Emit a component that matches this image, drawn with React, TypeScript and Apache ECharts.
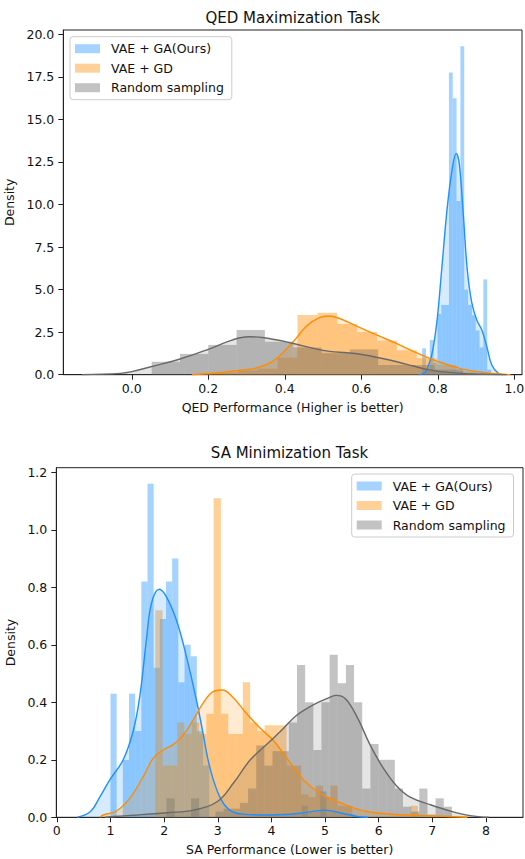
import React, { useEffect, useRef } from "react";
import * as echarts from "echarts";

const seriesNames = ["VAE + GA(Ours)", "VAE + GD", "Random sampling"];

// ---------- QED task: histogram bins (start, width, heights) ----------
const qedGaStart = 0.759;
const qedGaWidth = 0.01;
const qedGaHeights = [1.55, 0.3, 2.04, 0.7, 3.57, 4.1, 4.1, 17.75, 16.24, 10.2, 19.3, 5.0, 4.1, 3.5, 2.6, 1.6, 5.6, 0.3];

const qedGdStart = 0.173;
const qedGdWidth = 0.052;
const qedGdHeights = [0.06, 0.12, 0.24, 0.35, 1.0, 3.51, 3.64, 2.98, 2.51, 2.0, 1.43, 0.96, 0.57, 0.2, 0.05];

const qedRandStart = 0.052;
const qedRandWidth = 0.074;
const qedRandHeights = [0.76, 1.22, 1.75, 2.63, 1.94, 1.6, 1.26, 1.49, 0.57, 0.57, 0.3, 0.1];

// ---------- QED task: KDE curves ----------
const qedGaKde = [
  [0.75, 0], [0.765, 0.1], [0.771, 0.28], [0.784, 1.16], [0.797, 3.0], [0.81, 6.15], [0.824, 9.68],
  [0.837, 12.0], [0.848, 13.0], [0.856, 12.4], [0.867, 9.28], [0.877, 6.15], [0.889, 4.2], [0.902, 3.2],
  [0.915, 2.63], [0.928, 1.65], [0.941, 0.57], [0.958, 0.08], [0.97, 0],
];
const qedGdKde = [
  [0.157, 0], [0.22, 0.1], [0.275, 0.24], [0.327, 0.4], [0.37, 0.8], [0.4, 1.4], [0.43, 2.15], [0.457, 2.86],
  [0.49, 3.35], [0.514, 3.45], [0.54, 3.33], [0.588, 2.85], [0.649, 2.25], [0.693, 1.82], [0.736, 1.37],
  [0.78, 0.95], [0.806, 0.73], [0.841, 0.48], [0.876, 0.28], [0.928, 0.11], [0.97, 0.03], [0.99, 0],
];
const qedRandKde = [
  [-0.13, 0], [-0.03, 0.08], [0, 0.18], [0.05, 0.47], [0.126, 0.92], [0.2, 1.49], [0.26, 2.02], [0.305, 2.23],
  [0.346, 2.17], [0.414, 1.88], [0.475, 1.55], [0.518, 1.37], [0.562, 1.29], [0.597, 1.2], [0.649, 0.98],
  [0.693, 0.76], [0.736, 0.51], [0.771, 0.31], [0.806, 0.18], [0.88, 0.05], [0.98, 0],
];

// ---------- SA task: histogram bins ----------
const saGaStart = 1.0;
const saGaWidth = 0.115;
const saGaHeights = [
  0.43, 0.0, 0.2, 0.43, 0.3, 0.82, 1.16, 0.52, 0.69, 0.82, 0.9, 0.47, 0.6, 0.56, 0.3, 0.18,
  0, 0, 0, 0, 0, 0, 0, 0, 0, 0, 0, 0, 0, 0, 0, 0.04, 0, 0, 0.09,
];

const saGdStart = 1.835;
const saGdWidth = 0.136;
const saGdHeights = [
  0.72, 0.18, 0.18, 0.33, 0.29, 0.33, 0.29, 0.36, 1.11, 0.36, 0.29, 0.29, 0.47, 0.33, 0.3, 0.32, 0.32, 0.32,
  0.18, 0.18, 0.08, 0.07, 0.11, 0.07, 0.11, 0.04, 0.04, 0, 0, 0, 0, 0, 0, 0, 0, 0.04,
];

const saRandStart = 2.045;
const saRandWidth = 0.152;
const saRandHeights = [
  0.066, 0, 0, 0.066, 0, 0, 0.02, 0.03, 0.03, 0.05, 0.1, 0.25, 0.18, 0.23, 0.23, 0.33, 0.53, 0.4, 0.234,
  0.4, 0.565, 0.466, 0.53, 0.4, 0.1, 0.255, 0.2, 0.2, 0.1, 0.037, 0.02, 0.1, 0.01, 0.066, 0.037,
];

// ---------- SA task: KDE curves ----------
const saGaKde = [
  [0.38, 0], [0.628, 0.02], [0.8, 0.07], [0.987, 0.13], [1.237, 0.2], [1.423, 0.3], [1.546, 0.42],
  [1.67, 0.617], [1.764, 0.744], [1.907, 0.793], [2.043, 0.767], [2.229, 0.686], [2.416, 0.559],
  [2.602, 0.408], [2.726, 0.292], [2.849, 0.176], [3.035, 0.072], [3.222, 0.025], [3.471, 0.011],
  [4.0, 0.008], [4.5, 0.013], [5.0, 0.025], [5.3, 0.015], [5.6, 0.003], [5.8, 0],
];
const saGdKde = [
  [0.8, 0], [0.864, 0.008], [1.112, 0.022], [1.359, 0.066], [1.609, 0.141], [1.795, 0.205], [1.981, 0.234],
  [2.168, 0.253], [2.354, 0.285], [2.54, 0.338], [2.726, 0.397], [2.912, 0.437], [3.08, 0.443],
  [3.285, 0.417], [3.533, 0.362], [3.78, 0.312], [4.041, 0.266], [4.291, 0.205], [4.6, 0.13],
  [4.911, 0.083], [5.283, 0.051], [5.656, 0.025], [6.028, 0.014], [6.525, 0.008], [7.145, 0.004], [7.65, 0],
];
const saRandKde = [
  [0.9, 0], [1.0, 0.002], [1.5, 0.008], [2.056, 0.016], [2.55, 0.025], [2.987, 0.054], [3.296, 0.12],
  [3.607, 0.2], [3.98, 0.265], [4.227, 0.31], [4.477, 0.356], [4.786, 0.392], [5.097, 0.418], [5.209, 0.424],
  [5.376, 0.413], [5.594, 0.35], [5.842, 0.251], [6.089, 0.17], [6.339, 0.108], [6.587, 0.07],
  [6.959, 0.044], [7.331, 0.022], [7.704, 0.006], [8.05, 0],
];

// ---------- axes ----------
const qedXTicks = [0, 0.2, 0.4, 0.6, 0.8, 1.0];
const qedYTicks = [0, 2.5, 5, 7.5, 10, 12.5, 15, 17.5, 20];
const saXTicks = [0, 1, 2, 3, 4, 5, 6, 7, 8];
const saYTicks = [0, 0.2, 0.4, 0.6, 0.8, 1.0, 1.2];

const RGB = ["30,144,255", "255,140,0", "105,105,105"];
const FONT = "DejaVu Sans";

function toBins(start: number, width: number, heights: number[]) {
  return heights.map((h, i) => [start + i * width, start + (i + 1) * width, h]);
}

function histSeries(name: string, idx: number, data: number[][], color: string) {
  return {
    type: "custom",
    name,
    xAxisIndex: idx,
    yAxisIndex: idx,
    itemStyle: { color: `rgba(${color},0.4)` },
    encode: { x: [0, 1], y: 2 },
    data,
    renderItem: (params: any, api: any) => {
      const a = api.coord([api.value(0), api.value(2)]);
      const b = api.coord([api.value(1), 0]);
      return {
        type: "rect",
        shape: { x: a[0], y: a[1], width: b[0] - a[0], height: b[1] - a[1] },
        style: { fill: `rgba(${color},0.4)` },
      };
    },
  };
}

function kdeSeries(name: string, idx: number, data: number[][], color: string) {
  return {
    type: "line",
    name,
    xAxisIndex: idx,
    yAxisIndex: idx,
    data,
    smooth: 0.4,
    showSymbol: false,
    symbol: "none",
    lineStyle: { color: `rgb(${color})`, width: 1.4 },
    itemStyle: { color: `rgb(${color})` },
    areaStyle: { color: `rgba(${color},0.25)` },
  };
}

function xAxis(idx: number, min: number, max: number, ticks: number[], name: string, digits: number) {
  return {
    type: "value",
    gridIndex: idx,
    min,
    max,
    name,
    nameLocation: "middle",
    nameGap: 26,
    nameTextStyle: { fontFamily: FONT, fontSize: 12.5, color: "#111" },
    axisLine: { show: true, onZero: false, lineStyle: { color: "#222", width: 1 } },
    axisTick: { show: true, length: 5, customValues: ticks, lineStyle: { color: "#222" } },
    axisLabel: {
      customValues: ticks,
      margin: 7,
      fontFamily: FONT,
      fontSize: 12.5,
      color: "#111",
      formatter: (v: number) => v.toFixed(digits),
    },
    splitLine: { show: false },
  };
}

function yAxis(idx: number, min: number, max: number, ticks: number[], gap: number) {
  return {
    type: "value",
    gridIndex: idx,
    min,
    max,
    name: "Density",
    nameLocation: "middle",
    nameRotate: 90,
    nameGap: gap,
    nameTextStyle: { fontFamily: FONT, fontSize: 12.5, color: "#111" },
    axisLine: { show: true, onZero: false, lineStyle: { color: "#222", width: 1 } },
    axisTick: { show: true, length: 5, customValues: ticks, lineStyle: { color: "#222" } },
    axisLabel: {
      customValues: ticks,
      margin: 9,
      fontFamily: FONT,
      fontSize: 12.5,
      color: "#111",
      formatter: (v: number) => v.toFixed(1),
    },
    splitLine: { show: false },
  };
}

function legend(left: number, top: number) {
  return {
    data: seriesNames,
    orient: "vertical",
    left,
    top,
    icon: "rect",
    itemWidth: 25,
    itemHeight: 9,
    itemGap: 5.5,
    padding: [5, 8, 5, 5],
    selectedMode: false,
    backgroundColor: "rgba(255,255,255,0.8)",
    borderColor: "#cccccc",
    borderWidth: 1,
    borderRadius: 3,
    textStyle: { fontFamily: FONT, fontSize: 12.5, color: "#111", lineHeight: 14, padding: [0, 0, 0, 6] },
  };
}

export default function App() {
  const ref = useRef<HTMLDivElement>(null);
  useEffect(() => {
    if (!ref.current) return;
    const chart = echarts.init(ref.current, undefined, { renderer: "svg" });
    const option: any = {
      animation: false,
      backgroundColor: "#ffffff",
      textStyle: { fontFamily: FONT },
      grid: [
        { left: 63.3, top: 30, width: 458.7, height: 344.7, show: true, borderColor: "#222", borderWidth: 1, backgroundColor: "transparent", containLabel: false, outerBoundsMode: "none" },
        { left: 56.3, top: 467.7, width: 466.7, height: 349.6, show: true, borderColor: "#222", borderWidth: 1, backgroundColor: "transparent", containLabel: false, outerBoundsMode: "none" },
      ],
      xAxis: [
        xAxis(0, -0.179, 1.02, qedXTicks, "QED Performance (Higher is better)", 1),
        xAxis(1, -0.01, 8.69, saXTicks, "SA Performance (Lower is better)", 0),
      ],
      yAxis: [yAxis(0, 0, 20.25, qedYTicks, 40), yAxis(1, 0, 1.216, saYTicks, 33)],
      legend: [legend(70, 36.7), legend(351.7, 474)],
      graphic: [
        { type: "text", x: 292.7, y: 18, style: { text: "QED Maximization Task", fontFamily: FONT, fontSize: 15, fill: "#111", textAlign: "center", textVerticalAlign: "middle" } },
        { type: "text", x: 289.5, y: 453, style: { text: "SA Minimization Task", fontFamily: FONT, fontSize: 15, fill: "#111", textAlign: "center", textVerticalAlign: "middle" } },
      ],
      series: [
        histSeries(seriesNames[0], 0, toBins(qedGaStart, qedGaWidth, qedGaHeights), RGB[0]),
        kdeSeries("GA density", 0, qedGaKde, RGB[0]),
        histSeries(seriesNames[1], 0, toBins(qedGdStart, qedGdWidth, qedGdHeights), RGB[1]),
        kdeSeries("GD density", 0, qedGdKde, RGB[1]),
        histSeries(seriesNames[2], 0, toBins(qedRandStart, qedRandWidth, qedRandHeights), RGB[2]),
        kdeSeries("Random density", 0, qedRandKde, RGB[2]),
        histSeries(seriesNames[0], 1, toBins(saGaStart, saGaWidth, saGaHeights), RGB[0]),
        kdeSeries("GA density", 1, saGaKde, RGB[0]),
        histSeries(seriesNames[1], 1, toBins(saGdStart, saGdWidth, saGdHeights), RGB[1]),
        kdeSeries("GD density", 1, saGdKde, RGB[1]),
        histSeries(seriesNames[2], 1, toBins(saRandStart, saRandWidth, saRandHeights), RGB[2]),
        kdeSeries("Random density", 1, saRandKde, RGB[2]),
      ],
    };
    chart.setOption(option);
    return () => chart.dispose();
  }, []);
  return <div ref={ref} style={{ position: "fixed", left: 0, top: 0, width: 525, height: 859 }} />;
}
